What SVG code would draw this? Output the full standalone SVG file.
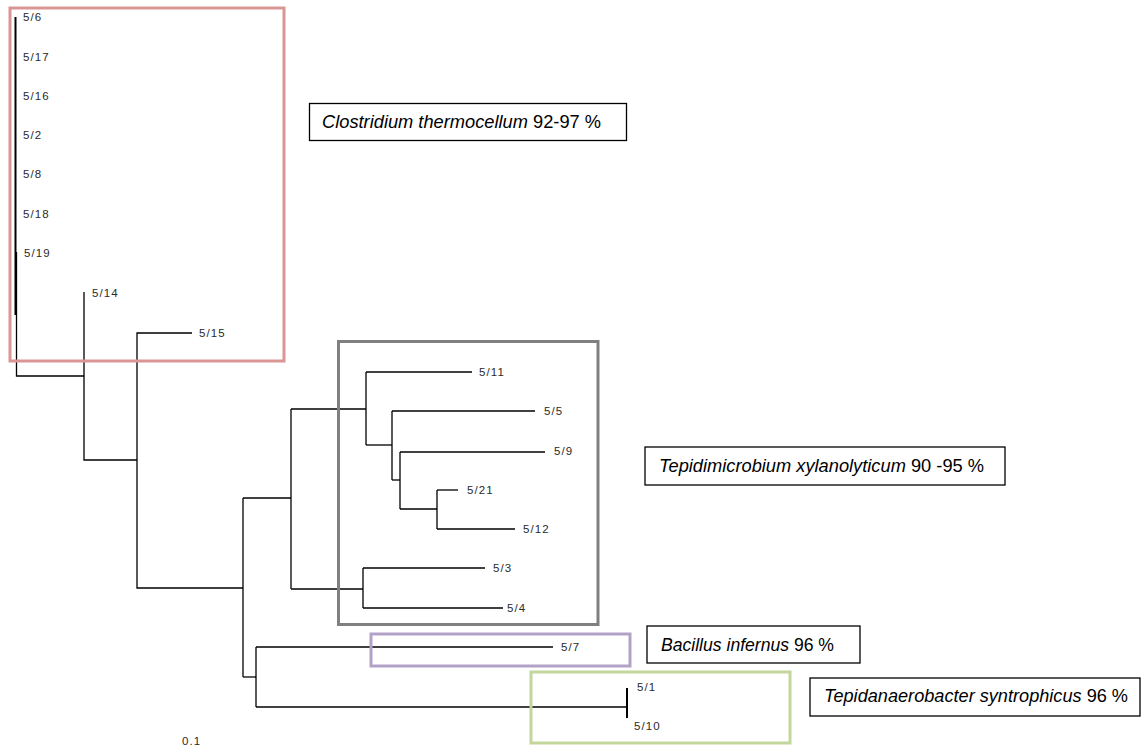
<svg xmlns="http://www.w3.org/2000/svg" width="1145" height="747" viewBox="0 0 1145 747">
<style>
.leaf{font-family:"Liberation Sans",Arial,sans-serif;font-size:11.5px;letter-spacing:1.1px;fill:#2a2a2a}
.br{fill:none;stroke:#000;stroke-width:1.3}
.clade{fill:none;stroke-width:3}
.lbox{fill:#fff;stroke:#000;stroke-width:1.3}
.ltxt{font-family:"Liberation Sans",Arial,sans-serif;font-size:17.5px;fill:#000}
.it{font-style:italic}
</style>
<rect width="1145" height="747" fill="#fff"/>
<g id="connectors">
<path class="br" style="stroke-width:2" d="M15.5,17V315"/>
<path class="br" d="M16.5,252V376H84"/>
<path class="br" d="M84,292V460H137"/>
<path class="br" d="M192,333H137V588H243"/>
<path class="br" d="M243,498V677"/>
<path class="br" d="M243,498H291"/>
<path class="br" d="M291,409V589"/>
<path class="br" d="M291,409H366"/>
<path class="br" d="M366,372V445"/>
<path class="br" d="M366,372H472"/>
<path class="br" d="M366,445H392"/>
<path class="br" d="M392,411V480"/>
<path class="br" d="M392,411H535"/>
<path class="br" d="M392,480H400"/>
<path class="br" d="M400,452V509"/>
<path class="br" d="M400,452H545"/>
<path class="br" d="M400,509H437"/>
<path class="br" d="M437,490V529"/>
<path class="br" d="M437,490H458"/>
<path class="br" d="M437,529H515"/>
<path class="br" d="M291,589H363"/>
<path class="br" d="M363,568V608"/>
<path class="br" d="M363,568H485"/>
<path class="br" d="M363,608H503"/>
<path class="br" d="M243,677H256"/>
<path class="br" d="M256,647V707"/>
<path class="br" d="M256,647H553"/>
<path class="br" d="M256,707H627"/>
<path class="br" style="stroke-width:2" d="M627,688V718"/>
</g>
<g id="clade-clostridium"><rect class="clade" x="10" y="8" width="274" height="353" stroke="#d99694"/></g>
<g id="clade-tepidimicrobium"><rect class="clade" x="338.5" y="341.5" width="259.5" height="283" stroke="#808080"/></g>
<g id="clade-bacillus"><rect class="clade" x="371" y="634" width="259" height="32" stroke="#b3a2c7"/></g>
<g id="clade-tepidanaerobacter"><rect class="clade" x="531" y="672" width="259" height="71" stroke="#c3d69b"/></g>
<g id="leaf-5-6"><text class="leaf" x="23" y="21">5/6</text></g>
<g id="leaf-5-17"><text class="leaf" x="23" y="61">5/17</text></g>
<g id="leaf-5-16"><text class="leaf" x="23" y="100">5/16</text></g>
<g id="leaf-5-2"><text class="leaf" x="23" y="139">5/2</text></g>
<g id="leaf-5-8"><text class="leaf" x="23" y="178">5/8</text></g>
<g id="leaf-5-18"><text class="leaf" x="23" y="218">5/18</text></g>
<g id="leaf-5-19"><text class="leaf" x="24" y="257">5/19</text></g>
<g id="leaf-5-14"><text class="leaf" x="92" y="297">5/14</text></g>
<g id="leaf-5-15"><text class="leaf" x="199" y="337">5/15</text></g>
<g id="leaf-5-11"><text class="leaf" x="479" y="376">5/11</text></g>
<g id="leaf-5-5"><text class="leaf" x="544" y="415">5/5</text></g>
<g id="leaf-5-9"><text class="leaf" x="554" y="455">5/9</text></g>
<g id="leaf-5-21"><text class="leaf" x="467" y="494">5/21</text></g>
<g id="leaf-5-12"><text class="leaf" x="523" y="533">5/12</text></g>
<g id="leaf-5-3"><text class="leaf" x="493" y="572">5/3</text></g>
<g id="leaf-5-4"><text class="leaf" x="507" y="612">5/4</text></g>
<g id="leaf-5-7"><text class="leaf" x="561" y="651">5/7</text></g>
<g id="leaf-5-1"><text class="leaf" x="637" y="691">5/1</text></g>
<g id="leaf-5-10"><text class="leaf" x="634" y="730">5/10</text></g>
<g id="scale"><text class="leaf" x="182" y="745">0.1</text></g>
<g id="label-clostridium">
<rect class="lbox" x="309.5" y="103.5" width="317" height="37"/>
<text class="ltxt" x="322" y="128" textLength="279" lengthAdjust="spacingAndGlyphs"><tspan class="it">Clostridium thermocellum</tspan> 92-97 %</text>
</g>
<g id="label-tepidimicrobium">
<rect class="lbox" x="645" y="447" width="360" height="38"/>
<text class="ltxt" x="659" y="472" textLength="325" lengthAdjust="spacingAndGlyphs"><tspan class="it">Tepidimicrobium xylanolyticum</tspan> 90 -95 %</text>
</g>
<g id="label-bacillus">
<rect class="lbox" x="647" y="626" width="213" height="37"/>
<text class="ltxt" x="661" y="651" textLength="173" lengthAdjust="spacingAndGlyphs"><tspan class="it">Bacillus infernus</tspan> 96 %</text>
</g>
<g id="label-tepidanaerobacter">
<rect class="lbox" x="810" y="678" width="330" height="38"/>
<text class="ltxt" x="824" y="702" textLength="304" lengthAdjust="spacingAndGlyphs"><tspan class="it">Tepidanaerobacter syntrophicus</tspan> 96 %</text>
</g>
</svg>
